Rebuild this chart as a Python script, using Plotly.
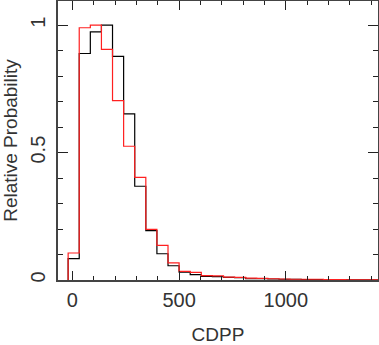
import plotly.graph_objects as go

# bin edges (CDPP) and relative probabilities
bin_start = -20
bin_width = 52
black_vals = [0.084, 0.889, 0.974, 1.0, 0.878, 0.652, 0.368, 0.194, 0.103, 0.056,
              0.031, 0.021, 0.014, 0.013, 0.010, 0.009, 0.005, 0.005, 0.004, 0.003,
              0.003, 0.002, 0.002, 0.002, 0.001, 0.001, 0.001, 0.001]
red_vals = [0.106, 0.990, 1.0, 0.905, 0.704, 0.525, 0.403, 0.199, 0.136, 0.067,
            0.034, 0.030, 0.017, 0.016, 0.011, 0.010, 0.007, 0.006, 0.005, 0.004,
            0.003, 0.003, 0.003, 0.002, 0.002, 0.001, 0.001, 0.001]

edges = [bin_start + bin_width * i for i in range(len(black_vals) + 1)]


def step_trace(vals, color):
    xs = [edges[0]] + edges
    ys = [0] + vals + [vals[-1]]
    return go.Scatter(x=xs, y=ys, mode="lines", line_shape="hv",
                      line={"color": color, "width": 1.2}, hoverinfo="skip")


fig = go.Figure()
fig.add_trace(step_trace(black_vals, "black"))
fig.add_trace(step_trace(red_vals, "#ff2020"))

axis_common = dict(
    showgrid=False, zeroline=False, showline=True, linecolor="#444", linewidth=1.5,
    mirror="ticks", ticks="inside", tickcolor="#222", tickwidth=1.2, automargin=False,
    tickfont={"family": "Liberation Sans", "size": 20, "color": "#333"},
)

fig.update_xaxes(
    range=[-67.5, 1432], dtick=500, tick0=0, ticklen=9, ticklabelstandoff=1,
    minor=dict(dtick=100, ticks="inside", ticklen=4, tickcolor="#222", showgrid=False),
    title=dict(text="CDPP", font={"family": "Liberation Sans", "size": 19, "color": "#333"},
               standoff=25),
    **axis_common,
)
fig.update_yaxes(
    range=[0, 1.095], dtick=0.5, tick0=0, ticklen=10, tickangle=-90, ticklabelstandoff=3,
    minor=dict(dtick=0.1, ticks="inside", ticklen=5, tickcolor="#222", showgrid=False),
    title=dict(text="Relative Probability",
               font={"family": "Liberation Sans", "size": 19, "color": "#333"}, standoff=8),
    **axis_common,
)

fig.update_layout(
    width=379, height=345,
    margin={"l": 58, "r": 1, "t": 1, "b": 65},
    plot_bgcolor="white", paper_bgcolor="white",
    showlegend=False,
)

# drop the page's default body margin so the figure sits at the window origin
fig.write_html("out.html", config={"displayModeBar": False},
               post_script="document.body.style.margin='0';")
